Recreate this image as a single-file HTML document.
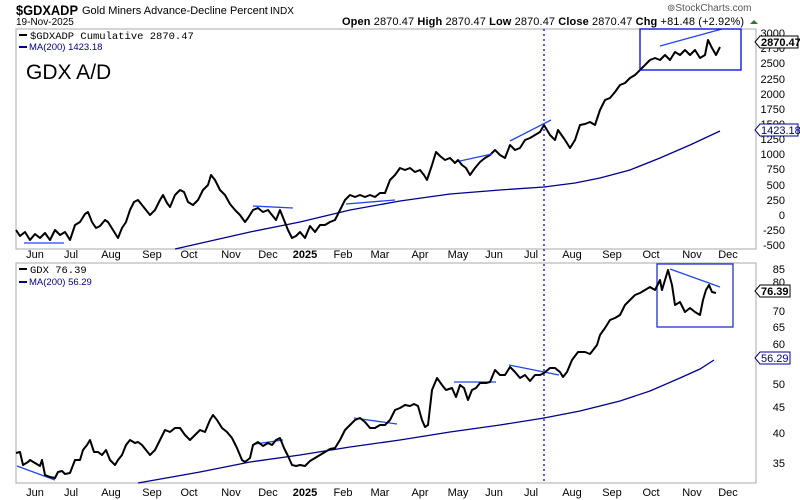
<!DOCTYPE html>
<html><head><meta charset="utf-8"><style>
body{margin:0;background:#fff;width:800px;height:500px;overflow:hidden}
svg{display:block;font-family:"Liberation Sans",sans-serif}
</style></head><body>
<svg width="800" height="500" viewBox="0 0 800 500" xmlns="http://www.w3.org/2000/svg">
<rect width="800" height="500" fill="#fff"/>
<text x="16" y="15" font-size="14" font-weight="bold" textLength="62" lengthAdjust="spacingAndGlyphs">$GDXADP</text>
<text x="82" y="14" font-size="11">Gold Miners Advance-Decline Percent</text>
<text x="270" y="14" font-size="10">INDX</text>
<text x="16" y="25" font-size="10">19-Nov-2025</text>
<text x="667" y="11" font-size="10" fill="#555">⊚StockCharts.com</text>
<text x="342" y="25" font-size="11" textLength="402" lengthAdjust="spacing"><tspan font-weight="bold">Open</tspan> 2870.47  <tspan font-weight="bold">High</tspan> 2870.47  <tspan font-weight="bold">Low</tspan> 2870.47  <tspan font-weight="bold">Close</tspan> 2870.47  <tspan font-weight="bold">Chg</tspan> +81.48 (+2.92%)</text>
<polygon points="750,24 754,20 758,24" fill="#2a7a2a"/>
<rect x="16" y="29" width="740" height="220" fill="none" stroke="#aaa"/>
<rect x="16" y="263" width="740" height="220" fill="none" stroke="#aaa"/>
<g font-size="11" fill="#000">
<rect x="19" y="34" width="8" height="2" fill="#000"/><text x="30" y="39" font-family="Liberation Mono,monospace" font-size="10.5">$GDXADP Cumulative 2870.47</text>
<rect x="19" y="46" width="8" height="2" fill="#00008b"/><text x="29" y="50" font-size="9.5" fill="#00008b">MA(200) 1423.18</text>
<text x="26" y="79" font-size="21">GDX A/D</text>
<rect x="19" y="268" width="8" height="2" fill="#000"/><text x="30" y="273" font-family="Liberation Mono,monospace" font-size="10.5">GDX 76.39</text>
<rect x="19" y="281" width="8" height="2" fill="#00008b"/><text x="29" y="285" font-size="9.5" fill="#00008b">MA(200) 56.29</text>
</g>
<g font-size="11" fill="#000" text-anchor="end">
<text x="785" y="37">3000</text><text x="785" y="52">2750</text><text x="785" y="67">2500</text>
<text x="785" y="83">2250</text><text x="785" y="98">2000</text><text x="785" y="113">1750</text>
<text x="785" y="128">1500</text><text x="785" y="143">1250</text><text x="785" y="158">1000</text>
<text x="785" y="173">750</text><text x="785" y="189">500</text><text x="785" y="204">250</text>
<text x="785" y="219">0</text><text x="785" y="234">-250</text><text x="785" y="249">-500</text>
<text x="785" y="273">85</text><text x="785" y="286">80</text><text x="785" y="315">70</text>
<text x="785" y="331">65</text><text x="785" y="348">60</text><text x="785" y="388">50</text>
<text x="785" y="411">45</text><text x="785" y="437">40</text><text x="785" y="467">35</text>
</g>
<path d="M755,42 L760,36 H798 V48 H760 Z" fill="#fff" stroke="#000"/>
<text x="761" y="46" font-size="11" font-weight="bold">2870.47</text>
<path d="M755,130 L760,124 H798 V136 H760 Z" fill="#fff" stroke="#00008b"/>
<text x="761" y="134" font-size="11" fill="#00008b">1423.18</text>
<path d="M755,291 L760,285 H790 V297 H760 Z" fill="#fff" stroke="#000"/>
<text x="761" y="295" font-size="11" font-weight="bold">76.39</text>
<path d="M755,358 L760,352 H790 V364 H760 Z" fill="#fff" stroke="#00008b"/>
<text x="761" y="362" font-size="11" fill="#00008b">56.29</text>
<g font-size="11" text-anchor="middle">
<text x="35" y="258">Jun</text><text x="71" y="258">Jul</text><text x="111" y="258">Aug</text><text x="152" y="258">Sep</text><text x="189" y="258">Oct</text><text x="231" y="258">Nov</text><text x="268" y="258">Dec</text><text x="305" y="258" font-weight="bold">2025</text><text x="343" y="258">Feb</text><text x="380" y="258">Mar</text><text x="420" y="258">Apr</text><text x="458" y="258">May</text><text x="494" y="258">Jun</text><text x="531" y="258">Jul</text><text x="572" y="258">Aug</text><text x="612" y="258">Sep</text><text x="651" y="258">Oct</text><text x="692" y="258">Nov</text><text x="728" y="258">Dec</text>
<text x="35" y="496">Jun</text><text x="71" y="496">Jul</text><text x="111" y="496">Aug</text><text x="152" y="496">Sep</text><text x="189" y="496">Oct</text><text x="231" y="496">Nov</text><text x="268" y="496">Dec</text><text x="305" y="496" font-weight="bold">2025</text><text x="343" y="496">Feb</text><text x="380" y="496">Mar</text><text x="420" y="496">Apr</text><text x="458" y="496">May</text><text x="494" y="496">Jun</text><text x="531" y="496">Jul</text><text x="572" y="496">Aug</text><text x="612" y="496">Sep</text><text x="651" y="496">Oct</text><text x="692" y="496">Nov</text><text x="728" y="496">Dec</text>
</g>
<line x1="544" y1="29" x2="544" y2="483" stroke="#0000ee" stroke-width="1.3" stroke-dasharray="2,3"/>
<polyline fill="none" stroke="#00008b" stroke-width="1.3" points="175,249 250,232 300,222 350,210 400,201 450,194 500,190 544,187 575,183 600,178 630,170 660,158 690,145 720,131"/>
<polyline fill="none" stroke="#000" stroke-width="2" stroke-linejoin="round" points="16,230 20,236 25,232 30,240 35,234 40,238 45,233 50,240 55,230 60,235 65,232 70,240 75,225 80,222 85,214 88,212 92,222 96,228 100,226 105,220 108,222 113,230 118,238 122,228 126,222 130,210 134,202 138,200 142,205 146,210 150,215 155,210 160,200 163,195 167,203 170,207 175,195 180,190 184,192 188,202 193,205 198,200 203,190 208,185 211,175 215,180 220,190 225,195 230,204 235,210 240,215 245,222 248,218 253,210 258,208 263,212 268,210 272,215 276,220 280,210 284,220 288,230 292,238 296,236 300,232 305,238 310,226 315,232 320,225 325,225 330,222 335,220 340,210 345,200 350,195 355,197 360,195 365,197 370,195 375,197 380,193 385,193 390,180 395,175 400,168 405,170 410,168 415,172 420,170 424,175 427,180 432,165 436,152 440,156 445,160 450,158 455,163 458,160 462,165 466,168 470,175 475,168 480,162 485,158 490,155 495,150 500,155 505,158 510,145 515,150 520,148 525,140 530,138 535,135 540,132 544,125 550,135 555,140 558,130 565,140 570,148 575,140 580,125 585,124 590,122 595,125 600,110 605,100 610,98 615,92 620,85 625,83 630,78 635,75 640,70 645,65 650,60 655,58 660,60 665,55 670,60 675,52 680,55 685,50 690,55 695,50 700,58 705,55 708,40 712,48 716,55 720,47"/>
<g stroke="#2244ee" stroke-width="1.3">
<line x1="24" y1="243" x2="64" y2="243"/><line x1="253" y1="206" x2="293" y2="208"/><line x1="346" y1="204" x2="395" y2="200"/><line x1="460" y1="161" x2="492" y2="154"/><line x1="510" y1="141" x2="551" y2="120"/><line x1="660" y1="46" x2="722" y2="29"/>
<line x1="17" y1="466" x2="55" y2="480"/><line x1="255" y1="444" x2="283" y2="440"/><line x1="354" y1="418" x2="397" y2="424"/><line x1="454" y1="382" x2="496" y2="382"/><line x1="509" y1="365" x2="559" y2="375"/><line x1="670" y1="269" x2="720" y2="287"/>
</g>
<rect x="640" y="29" width="101" height="41" fill="none" stroke="#0000ee" stroke-width="1.3"/>
<rect x="657" y="264" width="76" height="63" fill="none" stroke="#2233cc" stroke-width="1.3"/>
<polyline fill="none" stroke="#00008b" stroke-width="1.3" points="138,483 200,472 250,462 300,455 350,447 400,440 450,432 500,425 544,418 580,411 620,401 650,391 680,378 700,369 714,360"/>
<polyline fill="none" stroke="#000" stroke-width="2" stroke-linejoin="round" points="16,453 20,452 23,465 28,462 30,460 35,463 40,466 42,460 45,475 50,477 55,478 58,472 62,471 65,474 70,473 75,460 80,460 83,450 87,445 90,440 94,452 98,452 102,455 106,450 110,460 115,465 118,460 122,455 126,445 130,440 135,443 138,442 142,445 146,450 150,455 155,450 160,440 165,430 170,432 175,428 180,428 185,435 190,440 195,435 200,430 205,432 210,420 213,415 217,420 222,428 227,432 232,438 237,448 242,460 245,462 250,458 253,445 258,442 263,446 268,443 272,445 276,440 280,438 284,448 288,456 292,465 296,466 300,465 305,466 310,461 315,458 320,455 325,452 330,449 335,448 340,440 345,430 350,425 355,420 360,418 365,422 370,428 375,428 380,425 385,425 390,420 395,410 400,408 405,405 410,406 414,404 418,406 422,420 425,427 428,425 432,390 437,378 442,385 446,390 452,388 456,397 460,385 464,388 468,400 472,390 476,388 480,383 486,383 490,382 495,370 500,375 505,375 510,367 515,372 520,378 525,375 530,381 535,375 540,375 544,373 550,368 555,368 560,372 563,377 567,372 572,360 578,352 585,352 590,354 597,345 600,335 605,328 610,320 615,318 620,315 625,305 630,300 635,295 640,293 645,290 650,287 655,290 660,280 662,290 665,280 668,270 672,285 675,305 680,302 685,312 690,308 695,312 700,315 703,300 706,290 709,285 712,292 716,293"/>
</svg>
</body></html>
